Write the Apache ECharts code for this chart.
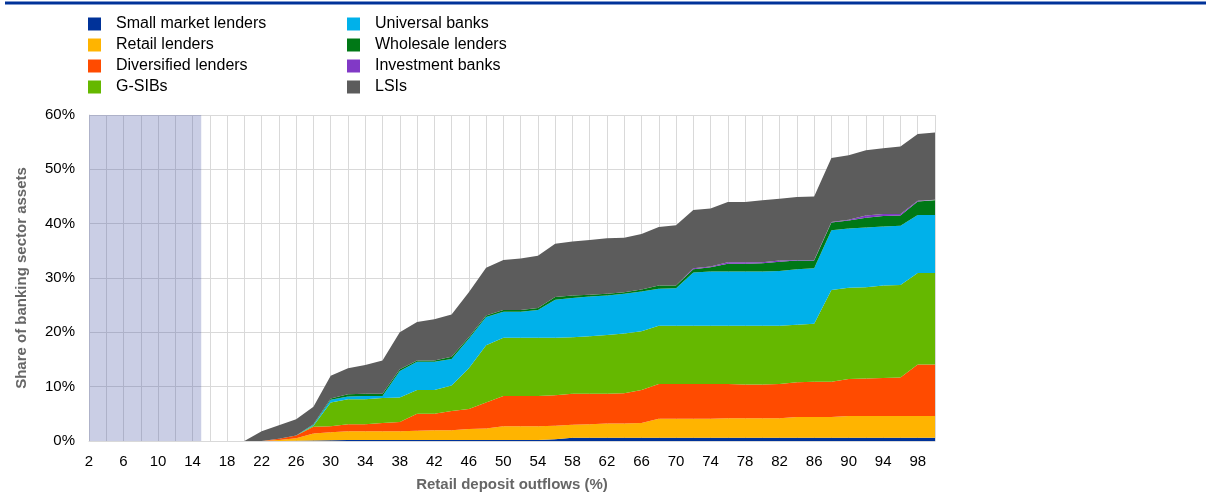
<!DOCTYPE html>
<html>
<head>
<meta charset="utf-8">
<script src="https://cdn.jsdelivr.net/npm/echarts@6/dist/echarts.min.js"></script>
<style>
  html, body { margin: 0; padding: 0; background: #ffffff; }
  #chart { width: 1211px; height: 497px; }
</style>
</head>
<body>
<div id="chart"></div>
<script>
// retail deposit outflow scenarios (%)
var outflows = [2, 4, 6, 8, 10, 12, 14, 16, 18, 20, 22, 24, 26, 28, 30, 32, 34, 36, 38, 40,
  42, 44, 46, 48, 50, 52, 54, 56, 58, 60, 62, 64, 66, 68, 70, 72, 74, 76, 78, 80,
  82, 84, 86, 88, 90, 92, 94, 96, 98, 100];

// share of banking sector assets (%) per bank type
var smallMarket = [0, 0, 0, 0, 0, 0, 0, 0, 0,
  0, 0, 0, 0.05, 0.1, 0.15, 0.2, 0.2, 0.2, 0.2, 0.2, 0.2, 0.2, 0.2, 0.2, 0.2, 0.2, 0.2, 0.3, 0.6,
  0.6, 0.6, 0.6, 0.6, 0.6, 0.6, 0.6, 0.6, 0.6, 0.6, 0.6, 0.6, 0.6, 0.6, 0.6, 0.6, 0.6, 0.6, 0.6, 0.6, 0.6];
var retail = [0, 0, 0, 0, 0, 0, 0, 0, 0,
  0, 0, 0.2, 0.45, 1.3, 1.45, 1.6, 1.6, 1.6, 1.6, 1.7, 1.8, 1.8, 2.0, 2.1, 2.5, 2.5, 2.5, 2.5, 2.4,
  2.5, 2.6, 2.6, 2.7, 3.5, 3.5, 3.5, 3.5, 3.6, 3.6, 3.6, 3.6, 3.8, 3.8, 3.8, 4.0, 4.0, 4.0, 4.0, 4.0, 4.0];
var diversified = [0, 0, 0, 0, 0, 0, 0, 0, 0,
  0, 0, 0.2, 0.5, 1.2, 1.1, 1.3, 1.3, 1.5, 1.7, 3.1, 3.0, 3.5, 3.7, 4.8, 5.6, 5.6, 5.6, 5.6, 5.7,
  5.6, 5.5, 5.6, 6.1, 6.4, 6.4, 6.4, 6.4, 6.3, 6.2, 6.2, 6.3, 6.4, 6.5, 6.5, 6.8, 6.9, 7.0, 7.1, 9.5, 9.5];
var gsib = [0, 0, 0, 0, 0, 0, 0, 0, 0,
  0, 0, 0, 0, 0.2, 4.4, 4.6, 4.6, 4.6, 4.5, 4.4, 4.4, 4.7, 7.5, 10.5, 10.7, 10.7, 10.7, 10.6, 10.4,
  10.6, 10.8, 11.0, 10.8, 10.7, 10.7, 10.7, 10.7, 10.7, 10.8, 10.8, 10.7, 10.6, 10.7, 16.9, 16.8, 16.8, 17.0, 17.0, 16.8, 16.8];
var universal = [0, 0, 0, 0, 0, 0, 0, 0, 0,
  0, 0, 0, 0, 0.2, 0.5, 0.5, 0.6, 0.4, 4.9, 5.2, 5.2, 4.9, 5.4, 5.2, 4.8, 4.8, 5.1, 7.0, 7.2,
  7.3, 7.3, 7.3, 7.3, 6.8, 6.9, 9.8, 10.0, 10.0, 10.0, 10.0, 10.1, 10.2, 10.2, 11.0, 10.9, 11.0, 10.9, 10.9, 10.7, 10.7];
var wholesale = [0, 0, 0, 0, 0, 0, 0, 0, 0,
  0, 0, 0, 0, 0.1, 0.2, 0.4, 0.4, 0.4, 0.3, 0.2, 0.2, 0.4, 0.3, 0.3, 0.3, 0.3, 0.4, 0.5, 0.5,
  0.3, 0.3, 0.3, 0.4, 0.6, 0.5, 0.6, 0.8, 1.4, 1.4, 1.5, 1.7, 1.6, 1.4, 1.4, 1.5, 1.8, 1.9, 1.9, 2.5, 2.7];
var investment = [0, 0, 0, 0, 0, 0, 0, 0, 0,
  0, 0, 0, 0, 0, 0, 0, 0, 0, 0, 0, 0, 0, 0, 0, 0, 0, 0, 0, 0,
  0, 0, 0, 0, 0, 0, 0.2, 0.1, 0.3, 0.3, 0.2, 0.2, 0.1, 0.1, 0.1, 0.1, 0.4, 0.4, 0.3, 0.1, 0.1];
var lsi = [0, 0, 0, 0, 0, 0, 0, 0, 0,
  0, 1.8, 2.5, 3.0, 3.2, 4.2, 4.8, 5.3, 6.1, 6.8, 7.1, 7.6, 7.8, 8.3, 8.8, 9.2, 9.5, 9.6, 9.8, 9.9,
  10.1, 10.2, 10.0, 10.2, 10.8, 11.1, 10.7, 10.7, 11.1, 11.1, 11.4, 11.4, 11.6, 11.7, 11.8, 11.9, 12.0, 12.1, 12.4, 12.3, 12.4];

// shaded outflow range
var shadedRange = [2, 15];

var fontName = "'Liberation Sans', Arial, sans-serif";

function areaSeries(name, color, values) {
  return {
    name: name,
    type: 'line',
    stack: 'total',
    symbol: 'none',
    lineStyle: { width: 0 },
    itemStyle: { color: color },
    areaStyle: { color: color, opacity: 1 },
    emphasis: { disabled: true },
    data: values
  };
}

var chart = echarts.init(document.getElementById('chart'), null, { renderer: 'canvas' });

var series = [
  areaSeries('Small market lenders', '#003299', smallMarket),
  areaSeries('Retail lenders', '#ffb400', retail),
  areaSeries('Diversified lenders', '#ff4b00', diversified),
  areaSeries('G-SIBs', '#65b800', gsib),
  areaSeries('Universal banks', '#00b1ea', universal),
  areaSeries('Wholesale lenders', '#007816', wholesale),
  areaSeries('Investment banks', '#8139c6', investment),
  areaSeries('LSIs', '#5c5c5c', lsi),
  // empty series on a hidden value axis, only to hold the shaded band
  {
    type: 'line',
    xAxisIndex: 1,
    data: [],
    silent: true,
    markArea: {
      silent: true,
      itemStyle: { color: 'rgba(60,75,160,0.27)' },
      data: [[{ xAxis: shadedRange[0] }, { xAxis: shadedRange[1] }]]
    }
  }
];

var legendBase = {
  orient: 'vertical',
  top: 16,
  padding: 0,
  icon: 'rect',
  itemWidth: 13,
  itemHeight: 13,
  itemGap: 5,
  selectedMode: false,
  textStyle: { fontFamily: fontName, fontSize: 16, color: '#000000', padding: [0, 0, 0, 10] }
};

var option = {
  animation: false,
  backgroundColor: '#ffffff',
  textStyle: { fontFamily: fontName },
  graphic: [{
    type: 'line',
    shape: { x1: 5, y1: 3, x2: 1206, y2: 3 },
    style: { stroke: '#003299', lineWidth: 3 }
  }],
  legend: [
    Object.assign({}, legendBase, {
      left: 88,
      data: ['Small market lenders', 'Retail lenders', 'Diversified lenders', 'G-SIBs']
    }),
    Object.assign({}, legendBase, {
      left: 347,
      data: ['Universal banks', 'Wholesale lenders', 'Investment banks', 'LSIs']
    })
  ],
  grid: { left: 89, right: 276, top: 115, bottom: 54 },
  xAxis: [{
    type: 'category',
    data: outflows,
    boundaryGap: false,
    name: 'Retail deposit outflows (%)',
    nameLocation: 'middle',
    nameGap: 36,
    nameTextStyle: { fontFamily: fontName, fontSize: 15, fontWeight: 'bold', color: '#666666' },
    axisLine: { show: true, lineStyle: { color: '#d9d9d9', width: 1 } },
    axisTick: { show: false },
    axisLabel: {
      interval: 1,
      fontFamily: fontName,
      fontSize: 15,
      color: '#000000',
      margin: 13
    },
    splitLine: { show: true, interval: 0, lineStyle: { color: '#d9d9d9', width: 1 } }
  }, {
    type: 'value',
    min: 2,
    max: 100,
    show: false
  }],
  yAxis: {
    type: 'value',
    min: 0,
    max: 60,
    interval: 10,
    name: 'Share of banking sector assets',
    nameLocation: 'middle',
    nameGap: 60,
    nameTextStyle: { fontFamily: fontName, fontSize: 15, fontWeight: 'bold', color: '#666666' },
    axisLine: { show: true, lineStyle: { color: '#d9d9d9', width: 1 } },
    axisTick: { show: false },
    axisLabel: {
      fontFamily: fontName,
      fontSize: 15,
      color: '#000000',
      margin: 14,
      formatter: '{value}%'
    },
    splitLine: { show: true, lineStyle: { color: '#d9d9d9', width: 1 } }
  },
  series: series
};

chart.setOption(option);
</script>
</body>
</html>
